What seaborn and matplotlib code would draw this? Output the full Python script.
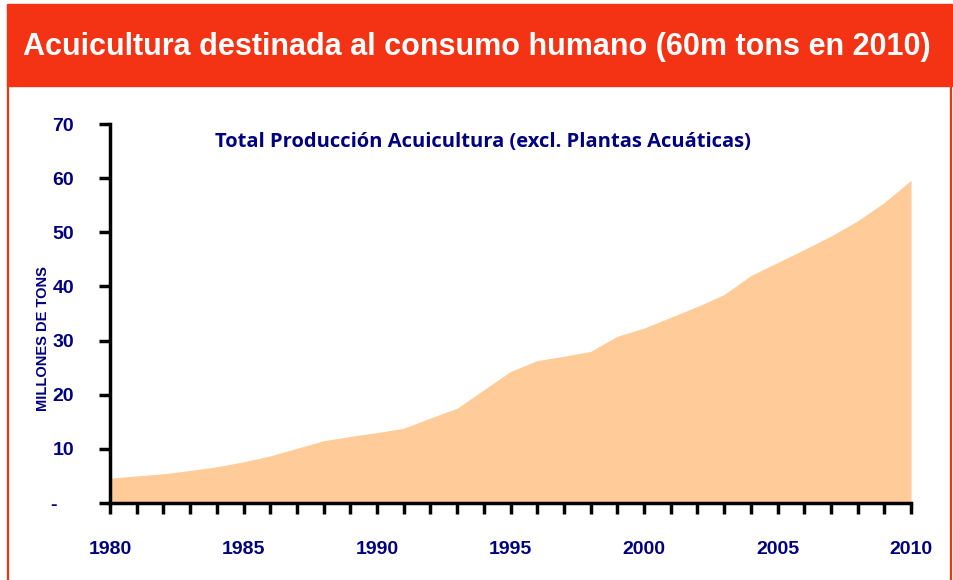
import matplotlib
matplotlib.use("Agg")
import matplotlib.pyplot as plt
from matplotlib import font_manager
from matplotlib.patches import Rectangle
from matplotlib.lines import Line2D
import seaborn as sns
import pandas as pd

# data (millions of tons)
years = list(range(1980, 2011))
production = [4.6, 5.0, 5.4, 6.0, 6.7, 7.6, 8.7, 10.1, 11.5, 12.3,
              13.0, 13.8, 15.7, 17.5, 20.9, 24.3, 26.3, 27.1, 28.0, 30.8,
              32.3, 34.3, 36.3, 38.5, 42.0, 44.4, 46.8, 49.3, 52.1, 55.5,
              59.6]
label_years = [1980, 1985, 1990, 1995, 2000, 2005, 2010]
y_ticks = [0, 10, 20, 30, 40, 50, 60, 70]
y_tick_labels = ["-   ", "10", "20", "30", "40", "50", "60", "70"]

title = "Acuicultura destinada al consumo humano (60m tons en 2010)"
subtitle = "Total Producción Acuicultura (excl. Plantas Acuáticas)"
ylabel = "MILLONES DE TONS"

red = "#F43314"
navy = "#000080"
area_color = "#FECB99"

sns.set_theme(style="white")

# use a narrow face if the system has one
installed = {f.name for f in font_manager.fontManager.ttflist}
if "Liberation Sans Narrow" in installed:
    base_font = "Liberation Sans Narrow"
    title_size, tick_size, ylab_size = 26, 17, 12
else:
    base_font = "Liberation Sans"
    title_size, tick_size, ylab_size = 22, 14, 10.5
plt.rcParams["font.family"] = [base_font, "DejaVu Sans"]

W, H = 954, 580
fig = plt.figure(figsize=(W / 100, H / 100), dpi=100)
fig.patch.set_facecolor("white")

# red banner + side borders
fig.patches.append(Rectangle((7 / W, 1 - 86 / H), 945 / W, 82 / H,
                             transform=fig.transFigure, color=red, zorder=0))
for xb in (8, 951):
    fig.add_artist(Line2D([xb / W, xb / W], [0, 1 - 86 / H],
                          transform=fig.transFigure, color=red, lw=1.6))

fig.text(477 / W, 1 - 47 / H, title, color="white", fontsize=title_size,
         fontweight="bold", ha="center", va="center")

ax = fig.add_axes([110 / W, 77 / H, 801 / W, 379 / H])
df = pd.DataFrame({"year": years, "tons": production})
sns.lineplot(data=df, x="year", y="tons", ax=ax, color=area_color, linewidth=0)
ax.fill_between(df["year"], df["tons"], color=area_color, linewidth=0)

ax.set_xlim(1980, 2010)
ax.set_ylim(0, 70)
ax.set_xticks(label_years)
ax.set_xticks(years, minor=True)
ax.set_xticklabels([str(y) for y in label_years])
ax.set_yticks(y_ticks)
ax.set_yticklabels(y_tick_labels)
ax.set_xlabel("")
ax.set_ylabel("")

ax.tick_params(axis="x", which="both", bottom=True, direction="out",
               length=8, width=2.5, color="black")
ax.tick_params(axis="x", which="major", pad=19, labelsize=tick_size,
               labelcolor=navy)
ax.tick_params(axis="y", left=True, direction="out", length=8, width=2.5,
               color="black", pad=18, labelsize=tick_size, labelcolor=navy)
for lab in ax.get_xticklabels() + ax.get_yticklabels():
    lab.set_fontweight("bold")

for side in ("top", "right"):
    ax.spines[side].set_visible(False)
for side in ("left", "bottom"):
    ax.spines[side].set_color("black")
    ax.spines[side].set_linewidth(2.5)

fig.text(483 / W, 1 - 142 / H, subtitle, color=navy, fontsize=14.5,
         fontweight="bold", ha="center", va="center",
         family=["Open Sans", "DejaVu Sans"])
fig.text(43 / W, 1 - 339 / H, ylabel, color=navy, fontsize=ylab_size,
         fontweight="bold", rotation=90, ha="center", va="center")

fig.savefig("out.png", dpi=100)
